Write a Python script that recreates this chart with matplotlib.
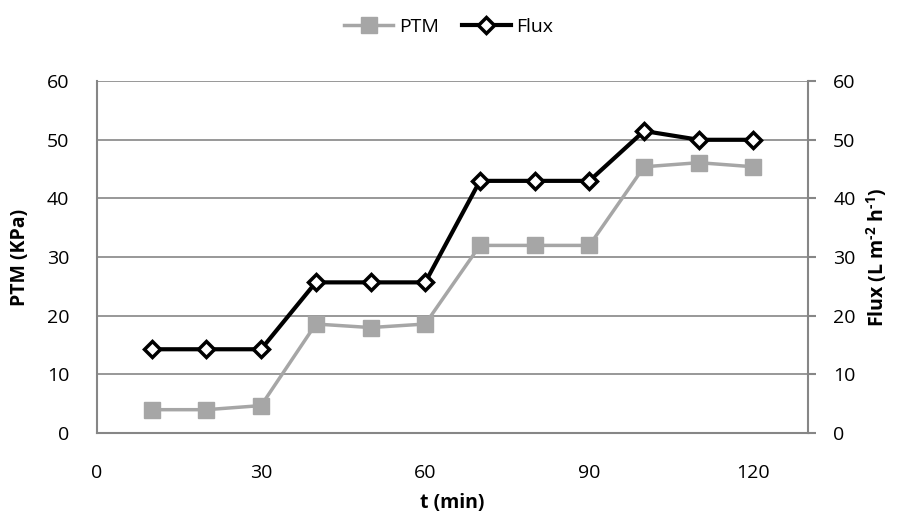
import matplotlib
matplotlib.use('Agg')
from matplotlib import pyplot as plt

t_min = [10, 20, 30, 40, 50, 60, 70, 80, 90, 100, 110, 120]
ptm = [4.0, 4.0, 4.7, 18.6, 18.0, 18.6, 32.0, 32.0, 32.0, 45.4, 46.1, 45.4]
flux = [14.3, 14.3, 14.3, 25.7, 25.7, 25.7, 43.0, 43.0, 43.0, 51.5, 50.0, 50.0]

plt.rcParams['font.family'] = ['Open Sans', 'DejaVu Sans']
plt.rcParams['axes.unicode_minus'] = False
plt.rcParams['mathtext.fontset'] = 'custom'
plt.rcParams['mathtext.rm'] = 'Open Sans:bold'
plt.rcParams['mathtext.bf'] = 'Open Sans:bold'
grid_col = '#868686'
fs = 14

fig = plt.figure(figsize=(8.98, 5.2), dpi=100)
ax = fig.add_axes([0.108, 0.167, 0.792, 0.677])
ax2 = ax.twinx()

l1, = ax.plot(t_min, ptm, color='#a6a6a6', lw=2.5, marker='s', markersize=11,
              markerfacecolor='#a6a6a6', markeredgecolor='#a6a6a6', label='PTM', zorder=3)
l2, = ax2.plot(t_min, flux, color='black', lw=3, marker='D', markersize=8,
               markerfacecolor='white', markeredgecolor='black', markeredgewidth=2.5,
               label='Flux', zorder=4)

ax.set_xlim(0, 130)
ax.set_xticks([0, 30, 60, 90, 120])
ax.set_ylim(0, 60)
ax.set_yticks(range(0, 61, 10))
ax2.set_ylim(0, 60)
ax2.set_yticks(range(0, 61, 10))

ax.yaxis.grid(True, color=grid_col, lw=1.2)
ax.set_axisbelow(True)

for a in (ax, ax2):
    for s in a.spines.values():
        s.set_visible(False)
for a, side in ((ax, 'left'), (ax, 'bottom'), (ax2, 'right')):
    a.spines[side].set_visible(True)
    a.spines[side].set_color(grid_col)
    a.spines[side].set_linewidth(1.5)

ax.tick_params(axis='x', length=0, pad=22, labelsize=fs)
ax.tick_params(axis='y', length=0, pad=20, labelsize=fs)
ax2.tick_params(axis='y', length=6, width=1.5, color=grid_col, pad=12, labelsize=fs)

ax.set_xlabel('t (min)', fontsize=fs, fontweight='bold', labelpad=8)
ax.set_ylabel('PTM (KPa)', fontsize=fs, fontweight='bold', labelpad=12)
ax2.set_ylabel(r'Flux (L m$^{\text{-2}}$ h$^{\text{-1}}$)', fontsize=fs, fontweight='bold', labelpad=6)

fig.legend(handles=[l1, l2], loc='upper center', bbox_to_anchor=(0.5, 1.0), ncol=2,
           frameon=False, fontsize=fs, handlelength=2.5, columnspacing=1.2, handletextpad=0.3)

fig.savefig('out.png', dpi=100)
